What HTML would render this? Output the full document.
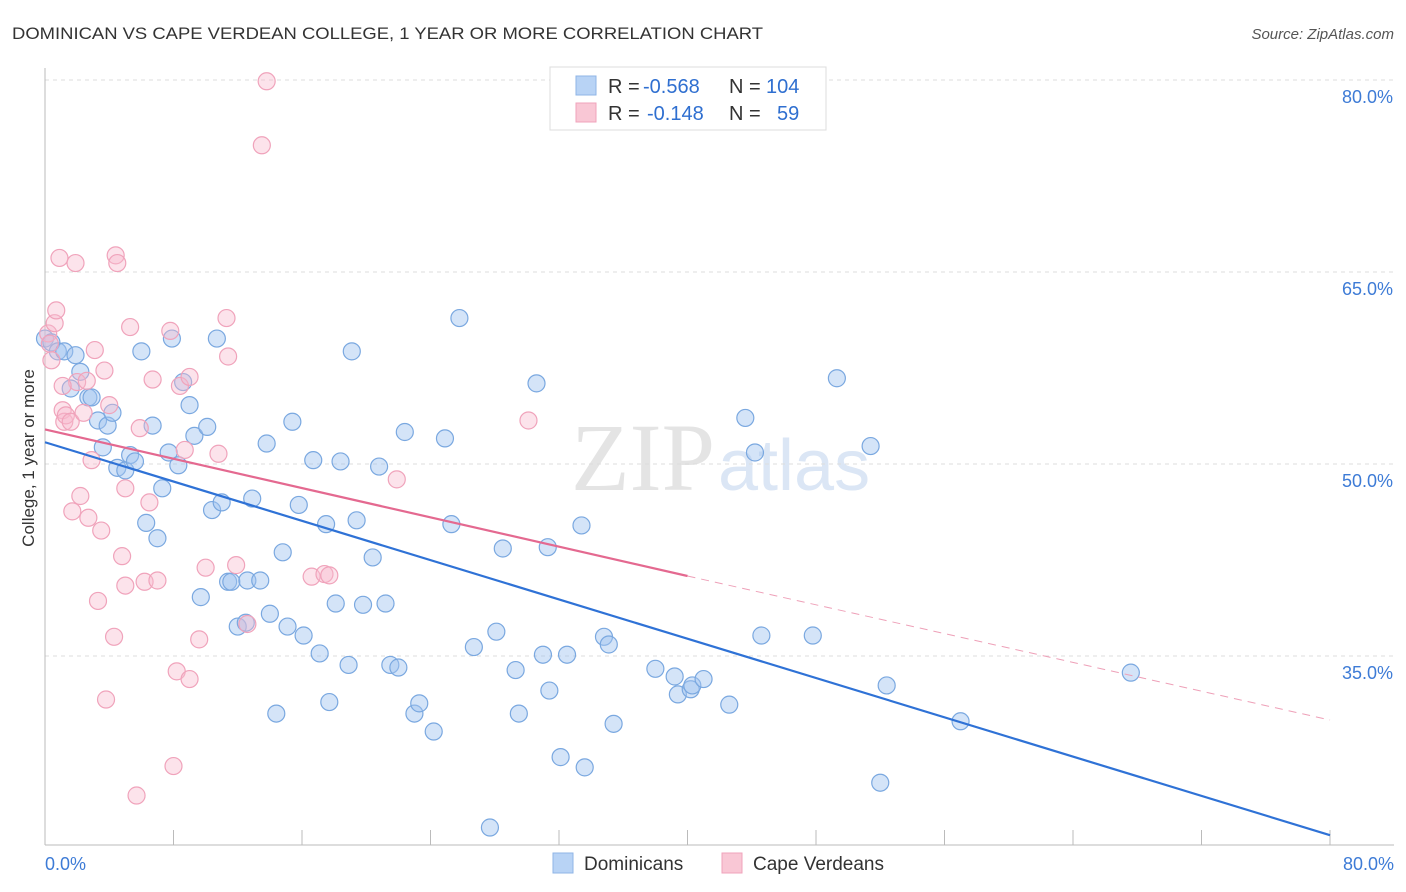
<!DOCTYPE html>
<html><head><meta charset="utf-8"><style>
body{margin:0;background:#fff;font-family:"Liberation Sans",sans-serif;}
svg{display:block}
</style></head><body>
<svg id="chart" width="1406" height="892">
<text x="12" y="39" font-size="17" fill="#333" textLength="751" lengthAdjust="spacingAndGlyphs">DOMINICAN VS CAPE VERDEAN COLLEGE, 1 YEAR OR MORE CORRELATION CHART</text>
<text x="1394" y="39" font-size="15" fill="#555" font-style="italic" text-anchor="end">Source: ZipAtlas.com</text>
<text x="715" y="490" font-size="96" fill="#e4e4e4" text-anchor="end" font-family="Liberation Serif">ZIP</text>
<text x="718" y="490" font-size="72" fill="#dbe6f5">atlas</text>
<text transform="translate(34,458) rotate(-90)" font-size="17" fill="#333" text-anchor="middle">College, 1 year or more</text>
<g id="grid"></g><g id="axes"></g><g id="pts"></g><g id="lines"></g>
<g>
<rect x="550" y="67" width="276" height="63" fill="#fff" stroke="#ddd"/>
<rect x="576" y="76" width="20" height="19" fill="#b8d3f5" stroke="#8fb4e6"/>
<rect x="576" y="103" width="20" height="19" fill="#f9c7d5" stroke="#f0a3bb"/>
<text x="608" y="93" font-size="20" fill="#333">R =</text>
<text x="643" y="93" font-size="20" fill="#2f6fd0">-0.568</text>
<text x="729" y="93" font-size="20" fill="#333">N =</text>
<text x="766" y="93" font-size="20" fill="#2f6fd0">104</text>
<text x="608" y="120" font-size="20" fill="#333">R =</text>
<text x="647" y="120" font-size="20" fill="#2f6fd0">-0.148</text>
<text x="729" y="120" font-size="20" fill="#333">N =</text>
<text x="777" y="120" font-size="20" fill="#2f6fd0">59</text>
</g>
<g>
<rect x="553" y="853" width="20" height="20" fill="#b8d3f5" stroke="#8fb4e6"/>
<text x="584" y="870" font-size="19" fill="#333">Dominicans</text>
<rect x="722" y="853" width="20" height="20" fill="#f9c7d5" stroke="#f0a3bb"/>
<text x="753" y="870" font-size="19" fill="#333">Cape Verdeans</text>
</g>
</svg>
<script>
const yTicks=[35,50,65,80];
const yTickLabels=["35.0%","50.0%","65.0%","80.0%"];
const xTickLabels=["0.0%","80.0%"];
const blueX=[0.0,0.4,0.8,1.2,1.9,1.6,2.2,2.7,2.9,3.3,3.6,3.9,4.2,4.5,5.0,5.3,5.6,6.0,6.3,6.7,7.0,7.3,7.7,7.9,8.3,8.6,9.0,9.3,9.7,10.1,10.4,10.7,11.0,11.4,11.6,12.0,12.5,12.6,12.9,13.4,13.8,14.0,14.4,14.8,15.1,15.4,15.8,16.1,16.7,17.1,17.5,17.7,18.1,18.4,18.9,19.1,19.4,19.8,20.4,20.8,21.2,21.5,22.0,22.4,23.0,23.3,24.2,24.9,25.3,25.8,27.7,28.5,28.1,26.7,29.3,29.5,30.6,31.0,31.3,31.4,32.1,32.5,33.4,33.6,34.8,35.1,35.4,38.0,39.2,39.4,40.2,40.3,41.0,42.6,43.6,44.2,44.6,47.8,49.3,51.4,52.0,52.4,57.0,67.6];
const blueY=[59.8,59.5,58.8,58.8,58.5,55.9,57.2,55.2,55.2,53.4,51.3,53.0,54.0,49.7,49.5,50.7,50.2,58.8,45.4,53.0,44.2,48.1,50.9,59.8,49.9,56.4,54.6,52.2,39.6,52.9,46.4,59.8,47.0,40.8,40.8,37.3,37.6,40.9,47.3,40.9,51.6,38.3,30.5,43.1,37.3,53.3,46.8,36.6,50.3,35.2,45.3,31.4,39.1,50.2,34.3,58.8,45.6,39.0,42.7,49.8,39.1,34.3,34.1,52.5,30.5,31.3,29.1,52.0,45.3,61.4,21.6,43.4,36.9,35.7,33.9,30.5,56.3,35.1,43.5,32.3,27.1,35.1,45.2,26.3,36.5,35.9,29.7,34.0,33.4,32.0,32.4,32.7,33.2,31.2,53.6,50.9,36.6,36.6,56.7,51.4,25.1,32.7,29.9,33.7];
const pinkX=[0.2,0.3,0.4,0.6,0.7,0.9,1.1,1.2,1.3,1.6,1.7,1.9,2.0,2.2,2.4,2.6,2.7,2.9,3.1,3.3,3.5,3.7,3.8,4.0,4.3,4.4,4.5,4.8,5.0,5.0,5.3,5.7,5.9,6.2,6.5,6.7,7.0,7.8,8.0,8.2,8.4,8.7,9.0,9.0,9.6,10.0,10.8,11.3,11.4,11.9,12.6,13.5,13.8,16.6,17.4,17.7,21.9,30.1,1.1];
const pinkY=[60.2,59.4,58.1,61.0,62.0,66.1,54.2,53.3,53.8,53.3,46.3,65.7,56.4,47.5,54.0,56.5,45.8,50.3,58.9,39.3,44.8,57.3,31.6,54.6,36.5,66.3,65.7,42.8,40.5,48.1,60.7,24.1,52.8,40.8,47.0,56.6,40.9,60.4,26.4,33.8,56.1,51.1,33.2,56.8,36.3,41.9,50.8,61.4,58.4,42.1,37.5,74.9,79.9,41.2,41.4,41.3,48.8,53.4,56.1];
const blueTrend=[[0,51.7],[80,21.0]];
const pinkTrendSolid=[[0,52.7],[40,41.25]];
const pinkTrendDash=[[40,41.25],[80,30.0]];

const X=v=>45+v/80*1285;
const Y=v=>464-(v-50)*12.8;
const NS="http://www.w3.org/2000/svg";
function mk(tag,attrs,parent){const e=document.createElementNS(NS,tag);for(const k in attrs)e.setAttribute(k,attrs[k]);document.getElementById(parent).appendChild(e);return e;}
yTicks.forEach((t,i)=>{
  const l=mk('line',{x1:45,x2:1394,y1:Y(t),y2:Y(t),stroke:'#ddd','stroke-dasharray':'4,4'},'grid');
  
  
  const tx=mk('text',{x:1393,y:Y(t)+23,'font-size':18,fill:'#3d7bd6','text-anchor':'end'},'axes');
  tx.textContent=yTickLabels[i];
  
  
});
let ax=mk('line',{x1:45,x2:45,y1:68,y2:845,stroke:'#bbb'},'axes');


ax=mk('line',{x1:45,x2:1394,y1:845,y2:845,stroke:'#bbb'},'axes');


for(let i=1;i<=10;i++){
  const t=mk('line',{x1:X(i*8),x2:X(i*8),y1:830,y2:845,stroke:'#bbb'},'axes');
  
  
}
[[0,'start',45],[80,'end',1394]].forEach((o,i)=>{
  const tx=mk('text',{x:o[2],y:870,'font-size':18,fill:'#3d7bd6','text-anchor':o[1]},'axes');
  tx.textContent=xTickLabels[i];
  
  
});
blueX.forEach((x,i)=>{
  const c=mk('circle',{cx:X(x),cy:Y(blueY[i]),r:8.5,fill:'rgba(160,196,240,0.45)',stroke:'#7aa8e0','stroke-width':1.2},'pts');
  
  
});
pinkX.forEach((x,i)=>{
  const c=mk('circle',{cx:X(x),cy:Y(pinkY[i]),r:8.5,fill:'rgba(248,184,204,0.4)',stroke:'#f0a3bb','stroke-width':1.2},'pts');
  
  
});
let tl=mk('line',{x1:X(blueTrend[0][0]),y1:Y(blueTrend[0][1]),x2:X(blueTrend[1][0]),y2:Y(blueTrend[1][1]),stroke:'#2f72d6','stroke-width':2.2},'lines');


tl=mk('line',{x1:X(pinkTrendSolid[0][0]),y1:Y(pinkTrendSolid[0][1]),x2:X(pinkTrendSolid[1][0]),y2:Y(pinkTrendSolid[1][1]),stroke:'#e46990','stroke-width':2.2},'lines');


tl=mk('line',{x1:X(pinkTrendDash[0][0]),y1:Y(pinkTrendDash[0][1]),x2:X(pinkTrendDash[1][0]),y2:Y(pinkTrendDash[1][1]),stroke:'#eea0b8','stroke-width':1,'stroke-dasharray':'8,6'},'lines');


</script>
</body></html>
